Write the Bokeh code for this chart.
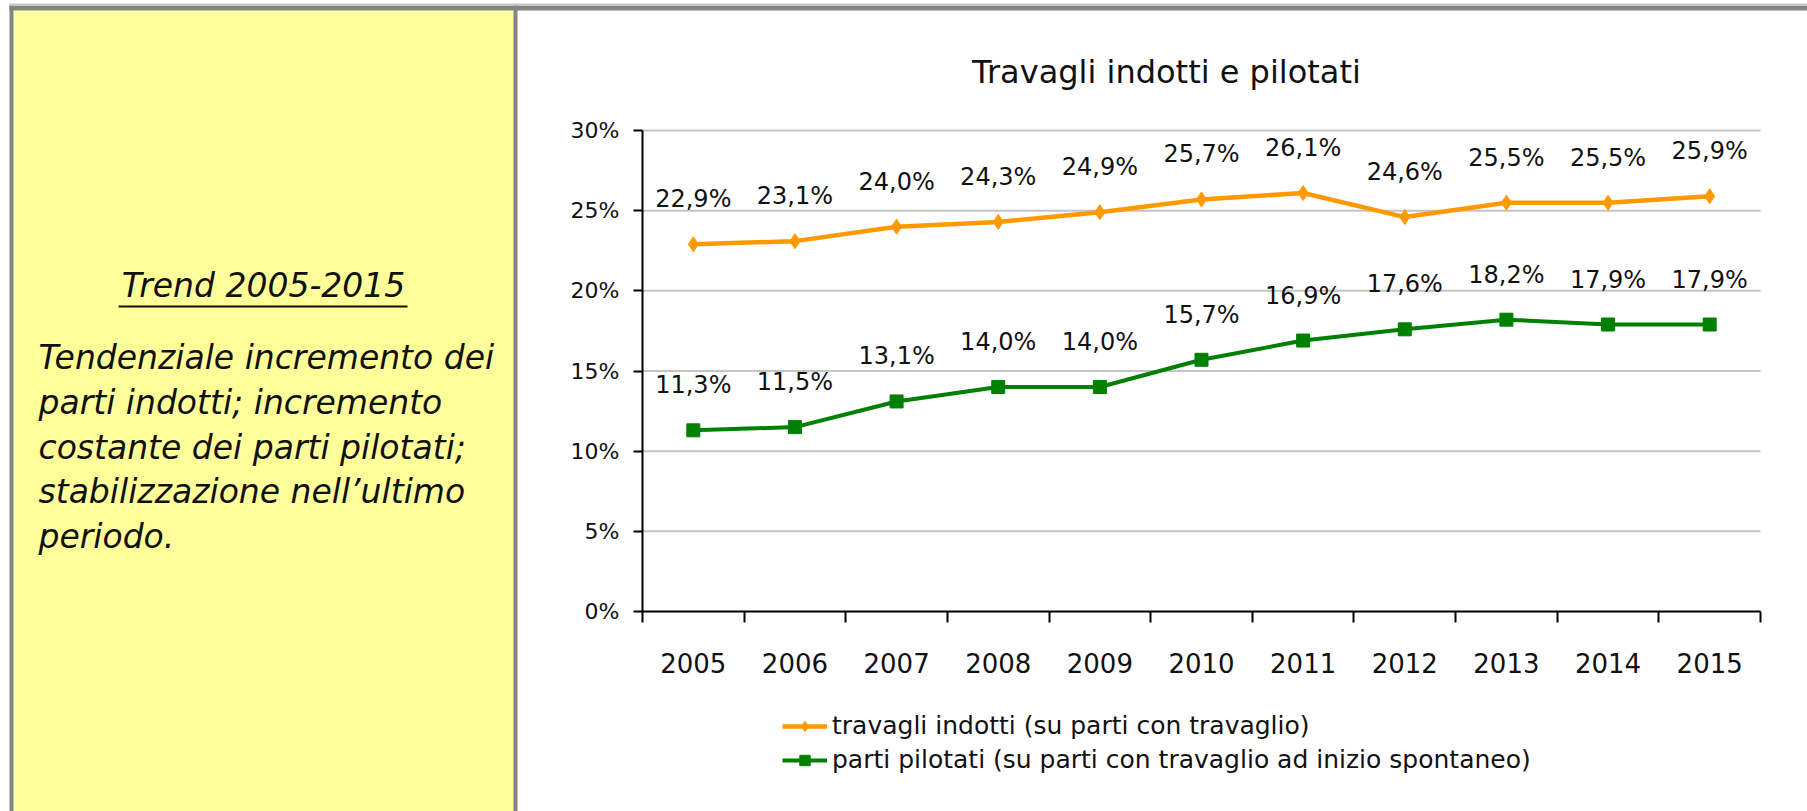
from bokeh.plotting import figure
from bokeh.models import (FixedTicker, Label, BoxAnnotation, Legend, LegendItem,
                          ColumnDataSource, Range1d)
from bokeh.embed import file_html
from bokeh.resources import INLINE
from bokeh.core.properties import value

# ---------------- data ----------------
years = ["2005", "2006", "2007", "2008", "2009", "2010", "2011", "2012", "2013", "2014", "2015"]
induced = [22.9, 23.1, 24.0, 24.3, 24.9, 25.7, 26.1, 24.6, 25.5, 25.5, 25.9]
piloted = [11.3, 11.5, 13.1, 14.0, 14.0, 15.7, 16.9, 17.6, 18.2, 17.9, 17.9]
y_ticks = [0, 5, 10, 15, 20, 25, 30]
y_tick_labels = ["0%", "5%", "10%", "15%", "20%", "25%", "30%"]
series_names = ["travagli indotti (su parti con travaglio)",
                "parti pilotati (su parti con travaglio ad inizio spontaneo)"]
chart_title = "Travagli indotti e pilotati"
panel_heading = "Trend 2005-2015"
panel_lines = ["Tendenziale incremento dei",
               "parti indotti; incremento",
               "costante dei parti pilotati;",
               "stabilizzazione nell\u2019ultimo",
               "periodo."]

# ---------------- layout (pixels on the canvas) ----------------
W, H = 1807, 811
AX_L, AX_R, AX_T, AX_B = 642, 1760, 130, 611   # where the chart's axes sit
FONT = "DejaVu Sans"
ORANGE = "#FF9900"
GREEN = "#008000"
GRAY = "#848484"
INK = "#111111"

n = len(years)
xs = list(range(n))
x_lo, x_hi = -0.5, n - 0.5
y_lo, y_hi = y_ticks[0], y_ticks[-1]

# the frame covers the whole canvas; ranges chosen so the axes land on AX_*
kx = (AX_R - AX_L) / (x_hi - x_lo)
ky = (AX_B - AX_T) / (y_hi - y_lo)
x_range = Range1d(x_lo - AX_L / kx, x_hi + (W - AX_R) / kx)
y_range = Range1d(y_lo - (H - AX_B) / ky, y_hi + AX_T / ky)


def sx(xc):
    return xc


def sy(yc):
    return H - yc


p = figure(width=W, height=H, output_backend="svg", toolbar_location=None,
           x_range=x_range, y_range=y_range,
           min_border_left=0, min_border_right=0, min_border_top=0, min_border_bottom=0,
           background_fill_color="white", border_fill_color="white",
           outline_line_color=None)
p.xgrid.visible = False
p.ygrid.visible = False

# ---- x axis
xa = p.xaxis[0]
xa.fixed_location = y_lo
xa.bounds = (x_lo, x_hi)
xa.ticker = FixedTicker(ticks=xs, minor_ticks=[i - 0.5 for i in range(n + 1)])
xa.major_label_overrides = {i: y for i, y in zip(xs, years)}
xa.major_tick_out = 0
xa.major_tick_in = 0
xa.minor_tick_out = 11
xa.minor_tick_in = 0
xa.minor_tick_line_width = 2
xa.minor_tick_line_color = "black"
xa.axis_line_width = 2
xa.axis_line_color = "black"
xa.major_label_standoff = 30
xa.major_label_text_font = FONT
xa.major_label_text_font_size = "26px"
xa.major_label_text_color = INK

# ---- y axis
ya = p.yaxis[0]
ya.fixed_location = x_lo
ya.bounds = (y_lo, y_hi)
ya.ticker = FixedTicker(ticks=y_ticks, minor_ticks=[])
ya.major_label_overrides = {t: l for t, l in zip(y_ticks, y_tick_labels)}
ya.major_tick_out = 9
ya.major_tick_in = 0
ya.major_tick_line_width = 2
ya.major_tick_line_color = "black"
ya.minor_tick_out = 0
ya.minor_tick_in = 0
ya.axis_line_width = 2
ya.axis_line_color = "black"
ya.major_label_standoff = 14
ya.major_label_text_font = FONT
ya.major_label_text_font_size = "22px"
ya.major_label_text_color = INK

# ---- horizontal gridlines across the plot area
p.segment(x0=[x_lo] * (len(y_ticks) - 1), x1=[x_hi] * (len(y_ticks) - 1),
          y0=y_ticks[1:], y1=y_ticks[1:], line_color="#c4c4c4", line_width=2)

# ---- series
src = ColumnDataSource(dict(
    x=xs, ind=induced, pil=piloted,
    ind_lbl=[f"{v:.1f}%".replace(".", ",") for v in induced],
    pil_lbl=[f"{v:.1f}%".replace(".", ",") for v in piloted]))

l1 = p.line("x", "ind", source=src, line_color=ORANGE, line_width=4.5)
m1 = p.scatter("x", "ind", source=src, marker="diamond", size=15,
               fill_color=ORANGE, line_color=ORANGE)
l2 = p.line("x", "pil", source=src, line_color=GREEN, line_width=4)
m2 = p.scatter("x", "pil", source=src, marker="square", size=13,
               fill_color=GREEN, line_color=GREEN)

for col, lab in (("ind", "ind_lbl"), ("pil", "pil_lbl")):
    p.text("x", col, text=lab, source=src, text_align="center", text_baseline="middle",
           y_offset=-45, text_font=value(FONT), text_font_size="24px", text_color=INK)

legend = Legend(items=[LegendItem(label=series_names[0], renderers=[l1, m1]),
                       LegendItem(label=series_names[1], renderers=[l2, m2])],
                location=(782, H - 774), orientation="vertical",
                border_line_color=None, background_fill_alpha=0, padding=0, margin=0,
                spacing=5, label_standoff=5, glyph_width=45, glyph_height=26,
                label_height=26, label_text_font=FONT, label_text_font_size="25px",
                label_text_baseline="middle", label_text_color=INK)
p.add_layout(legend, "center")

# ---- chart title
p.add_layout(Label(x=sx(1166), y=sy(71), x_units="screen", y_units="screen",
                   text=chart_title, text_align="center", text_baseline="alphabetic",
                   text_font=FONT, text_font_size="32px", text_color=INK))


# ---- yellow side panel and borders
def box(x0, x1, y0, y1, color, level="underlay"):
    p.add_layout(BoxAnnotation(left=sx(x0), right=sx(x1), top=sy(y0), bottom=sy(y1),
                               left_units="screen", right_units="screen",
                               top_units="screen", bottom_units="screen",
                               fill_color=color, fill_alpha=1.0, line_color=None,
                               level=level))


box(13, 513, 10, H, "#FFFF99")
box(9, 13, 5, H, GRAY)
box(513, 517, 5, H, GRAY)
box(9, W, 5, 10, GRAY)
box(9, W, 3, 5, "#c8c8c8")

# ---- side panel text
p.add_layout(Label(x=sx(263), y=sy(285), x_units="screen", y_units="screen",
                   text=panel_heading, text_align="center", text_baseline="alphabetic",
                   text_font=FONT, text_font_size="33px", text_font_style="italic",
                   text_color=INK))
box(118, 407, 305, 307, INK, level="annotation")

for i, line in enumerate(panel_lines):
    p.add_layout(Label(x=sx(38), y=sy(357 + i * 44.8), x_units="screen", y_units="screen",
                       text=line, text_align="left", text_baseline="alphabetic",
                       text_font=FONT, text_font_size="33px", text_font_style="italic",
                       text_color=INK))

open("out.html", "w").write(file_html(p, INLINE))
